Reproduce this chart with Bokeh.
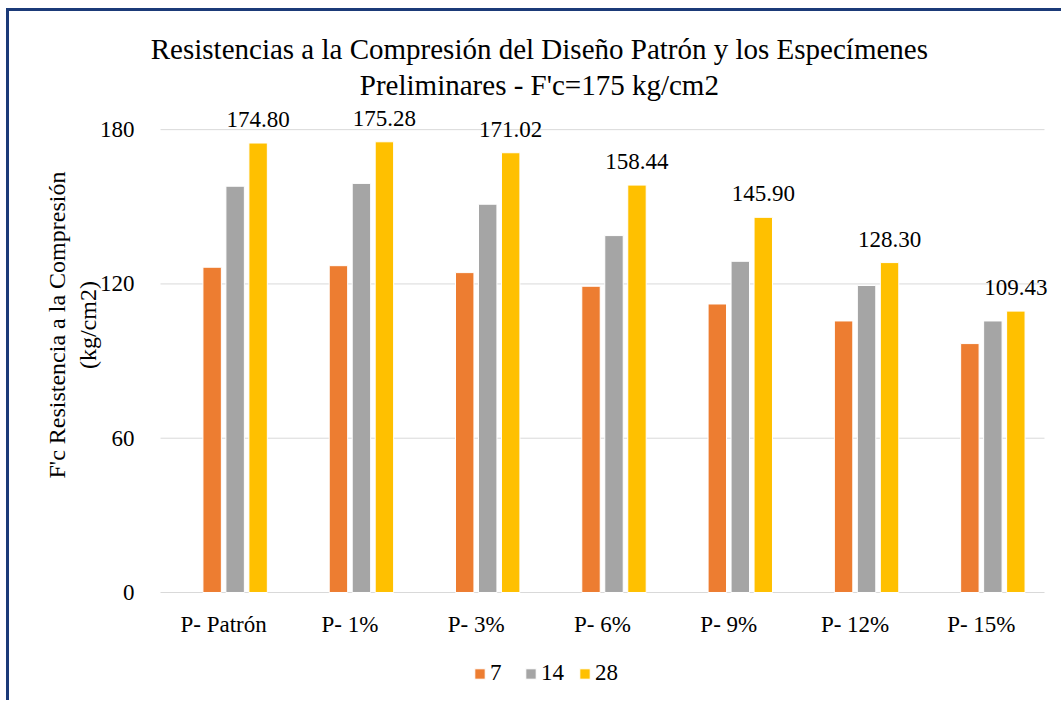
import math
from bokeh.plotting import figure
from bokeh.models import ColumnDataSource, Range1d, Legend, LegendItem, LabelSet, Label, FixedTicker
from bokeh.transform import dodge
from bokeh.core.properties import value
from bokeh.embed import file_html
from bokeh.resources import INLINE

categories = ["P- Patrón", "P- 1%", "P- 3%", "P- 6%", "P- 9%", "P- 12%", "P- 15%"]
series_names = ["7", "14", "28"]
d7 = [126.5, 127.1, 124.4, 119.1, 112.2, 105.6, 96.8]
d14 = [158.0, 159.1, 151.0, 138.8, 128.8, 119.4, 105.6]
d28 = [174.80, 175.28, 171.02, 158.44, 145.90, 128.30, 109.43]
y_ticks = [0, 60, 120, 180]
title_lines = ["Resistencias a la Compresión del Diseño Patrón y los Especímenes",
               "Preliminares - F'c=175 kg/cm2"]
y_label_lines = ["F'c Resistencia a la Compresión", "(kg/cm2)"]

colors = ["#ED7D31", "#A5A5A5", "#FFC000"]
FONT = "Liberation Serif"

n = len(categories)
xc = [i + 0.5 for i in range(n)]          # category centres on the numeric x scale
src = ColumnDataSource(dict(x=xc, d7=d7, d14=d14, d28=d28,
                            lbl=["%.2f" % v for v in d28]))

W, H = 1055, 692
p = figure(x_range=Range1d(-1.1957, 7.1583), y_range=Range1d(-43.17, 225.95),
           width=W, height=H, output_backend="svg", toolbar_location=None,
           min_border_left=0, min_border_right=0, min_border_top=0, min_border_bottom=0)
p.styles = {"margin-left": "6px", "margin-top": "8px",
            "border-left": "3px solid #1B3A78", "border-top": "3px solid #1B3A78"}
p.outline_line_color = None
p.background_fill_color = "white"
p.border_fill_color = "white"
p.xgrid.visible = False
p.ygrid.visible = False

# horizontal gridlines across the category span
p.segment(x0=[0] * len(y_ticks), x1=[n] * len(y_ticks), y0=y_ticks, y1=y_ticks,
          line_color="#D9D9D9", line_width=1)

bw = 0.146
offs = [-0.091, 0.091, 0.273]
renderers = []
for col, off, c in zip(["d7", "d14", "d28"], offs, colors):
    r = p.vbar(x=dodge("x", off), top=col, width=bw, source=src,
               fill_color=c, line_color="white", line_width=1)
    renderers.append(r)

labels = LabelSet(x=dodge("x", offs[2]), y="d28", text="lbl", source=src,
                  text_align="center", text_baseline="alphabetic", y_offset=16,
                  text_font=value(FONT), text_font_size=value("23px"), text_color="#000000")
p.add_layout(labels)

# y axis
p.yaxis.fixed_location = 0
p.yaxis.ticker = FixedTicker(ticks=y_ticks)
p.yaxis.axis_line_color = None
p.yaxis.major_tick_line_color = None
p.yaxis.minor_tick_line_color = None
p.yaxis.major_label_standoff = 20
p.yaxis.major_label_text_font = FONT
p.yaxis.major_label_text_font_size = "23px"
p.yaxis.major_label_text_color = "#000000"

# x axis
p.xaxis.fixed_location = 0
p.xaxis.ticker = FixedTicker(ticks=xc)
p.xaxis.major_label_overrides = {x: c for x, c in zip(xc, categories)}
p.xaxis.axis_line_color = None
p.xaxis.major_tick_line_color = None
p.xaxis.minor_tick_line_color = None
p.xaxis.major_label_standoff = 14
p.xaxis.major_label_text_font = FONT
p.xaxis.major_label_text_font_size = "23px"
p.xaxis.major_label_text_color = "#000000"

# y axis title (two rotated lines)
for txt, xv in zip(y_label_lines, [-0.8235, -0.578]):
    p.add_layout(Label(x=xv, y=104.0, text=txt, angle=math.pi / 2,
                       text_align="center", text_baseline="alphabetic",
                       text_font=FONT, text_font_size="24px", text_color="#000000"))

# chart title
for txt, yv in zip(title_lines, [211.2, 197.2]):
    p.add_layout(Label(x=3.0, y=yv, text=txt, text_align="center", text_baseline="middle",
                       text_font=FONT, text_font_size="29px", text_color="#000000"))

legend = Legend(items=[LegendItem(label=s, renderers=[r]) for s, r in zip(series_names, renderers)],
                orientation="horizontal", location=(464, 17),
                glyph_width=13, glyph_height=13, label_standoff=4, spacing=14,
                padding=4, margin=0, border_line_color=None, background_fill_alpha=0,
                label_text_font=FONT, label_text_font_size="23px", label_text_color="#000000")
p.add_layout(legend, "center")

open("out.html", "w").write(file_html(p, INLINE))
